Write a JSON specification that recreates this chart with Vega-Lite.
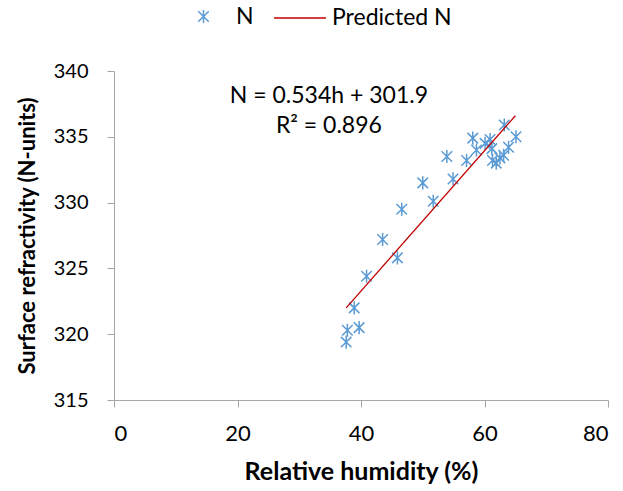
{
  "$schema": "https://vega.github.io/schema/vega-lite/v6.json",
  "autosize": "none",
  "width": 494,
  "height": 329,
  "padding": {"left": 114, "top": 71, "right": 15, "bottom": 91},
  "background": "white",
  "config": {
    "font": "Lato",
    "view": {"stroke": null},
    "axis": {
      "grid": false,
      "domainColor": "#A6A6A6",
      "tickColor": "#A6A6A6",
      "tickSize": 7,
      "labelColor": "#000000",
      "titleFontWeight": "bold",
      "titleColor": "#000000",
      "labelFont": "Lato",
      "titleFont": "Lato"
    },
    "legend": {
      "labelFont": "Lato",
      "labelFontSize": 23,
      "labelColor": "#000000"
    }
  },
  "datasets": {
    "obs": [
      {"h": 37.6, "N": 319.4, "series": "N"},
      {"h": 37.8, "N": 320.3, "series": "N"},
      {"h": 39.7, "N": 320.5, "series": "N"},
      {"h": 38.9, "N": 322.0, "series": "N"},
      {"h": 40.9, "N": 324.4, "series": "N"},
      {"h": 45.9, "N": 325.8, "series": "N"},
      {"h": 43.5, "N": 327.2, "series": "N"},
      {"h": 46.6, "N": 329.5, "series": "N"},
      {"h": 51.7, "N": 330.1, "series": "N"},
      {"h": 50.0, "N": 331.5, "series": "N"},
      {"h": 54.9, "N": 331.8, "series": "N"},
      {"h": 53.9, "N": 333.5, "series": "N"},
      {"h": 57.1, "N": 333.2, "series": "N"},
      {"h": 58.1, "N": 334.9, "series": "N"},
      {"h": 58.7, "N": 334.0, "series": "N"},
      {"h": 60.1, "N": 334.5, "series": "N"},
      {"h": 60.9, "N": 334.8, "series": "N"},
      {"h": 61.2, "N": 334.1, "series": "N"},
      {"h": 61.3, "N": 333.2, "series": "N"},
      {"h": 61.9, "N": 333.0, "series": "N"},
      {"h": 62.5, "N": 333.4, "series": "N"},
      {"h": 63.1, "N": 333.6, "series": "N"},
      {"h": 63.9, "N": 334.2, "series": "N"},
      {"h": 63.2, "N": 335.9, "series": "N"},
      {"h": 65.1, "N": 335.0, "series": "N"}
    ],
    "fit": [
      {"h": 37.6, "N": 322.0, "series": "Predicted N"},
      {"h": 65.0, "N": 336.6, "series": "Predicted N"}
    ]
  },
  "layer": [
    {
      "data": {"name": "obs"},
      "mark": {
        "type": "point",
        "shape": "M-1,-1L1,1M-1,1L1,-1M0,-1.25L0,1.25",
        "filled": false,
        "strokeWidth": 1.5,
        "size": 110,
        "opacity": 1
      },
      "encoding": {
        "x": {
          "field": "h",
          "type": "quantitative",
          "scale": {"domain": [0, 80], "nice": false},
          "axis": {"values": [0, 20, 40, 60, 80], "title": "Relative humidity (%)", "labelFontSize": 22, "labelPadding": 16, "titleFontSize": 25, "titlePadding": 15}
        },
        "y": {
          "field": "N",
          "type": "quantitative",
          "scale": {"domain": [315, 340], "nice": false, "zero": false},
          "axis": {"values": [315, 320, 325, 330, 335, 340], "title": "Surface refractivity (N-units)", "labelFontSize": 20, "labelPadding": 19, "titleFontSize": 22, "titlePadding": 14}
        },
        "color": {
          "field": "series",
          "type": "nominal",
          "scale": {"domain": ["N"], "range": ["#5B9BD5"]},
          "legend": {
            "title": null,
            "orient": "none",
            "legendX": 78,
            "legendY": -66,
            "labelOffset": 21,
            "symbolType": "M-1,-1L1,1M-1,1L1,-1M0,-1.25L0,1.25",
            "symbolSize": 110,
            "symbolStrokeWidth": 1.5
          }
        }
      }
    },
    {
      "data": {"name": "fit"},
      "mark": {"type": "line", "strokeWidth": 1.3},
      "encoding": {
        "x": {"field": "h", "type": "quantitative"},
        "y": {"field": "N", "type": "quantitative"},
        "stroke": {
          "field": "series",
          "type": "nominal",
          "scale": {"domain": ["Predicted N"], "range": ["#C00000"]},
          "legend": {
            "title": null,
            "orient": "none",
            "legendX": 159,
            "legendY": -80,
            "labelOffset": 5,
            "symbolType": "stroke",
            "symbolSize": 2700,
            "symbolStrokeWidth": 1.3
          }
        }
      }
    },
    {
      "data": {"values": [{}]},
      "mark": {"type": "text", "fontSize": 23, "font": "Lato", "color": "#000000", "align": "center", "baseline": "middle"},
      "encoding": {
        "x": {"datum": 34.8, "type": "quantitative"},
        "y": {"datum": 338.1, "type": "quantitative"},
        "text": {"value": "N = 0.534h + 301.9"}
      }
    },
    {
      "data": {"values": [{}]},
      "mark": {"type": "text", "fontSize": 23, "font": "Lato", "color": "#000000", "align": "center", "baseline": "middle"},
      "encoding": {
        "x": {"datum": 34.8, "type": "quantitative"},
        "y": {"datum": 335.8, "type": "quantitative"},
        "text": {"value": "R² = 0.896"}
      }
    }
  ]
}
